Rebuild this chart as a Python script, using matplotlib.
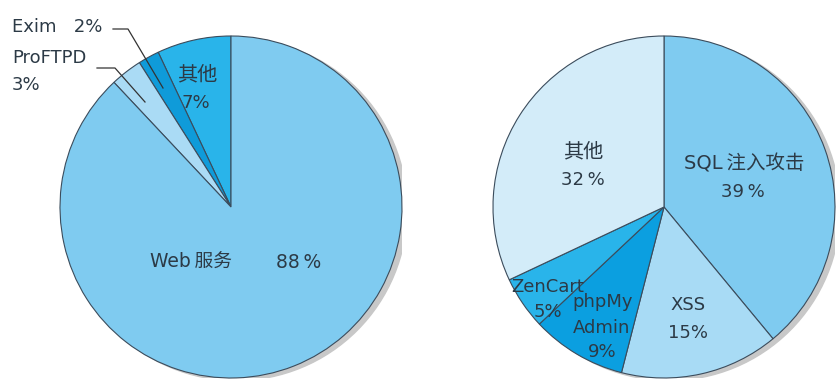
import matplotlib.pyplot as plt
from matplotlib.patches import Circle

plt.rcParams['font.family'] = ['DejaVu Sans', 'Noto Sans CJK SC']

# left pie: counterclockwise from the top
left_labels = ['其他', 'Exim', 'ProFTPD', 'Web服务']
left_values = [7, 2, 3, 88]
left_colors = ['#29b4ea', '#0f9bd9', '#aadbf5', '#7fcbf0']

# right pie: clockwise from the top
right_labels = ['SQL注入攻击', 'XSS', 'phpMyAdmin', 'ZenCart', '其他']
right_values = [39, 15, 9, 5, 32]
right_colors = ['#7fcbf0', '#a8dbf5', '#0b9fe0', '#29b4ea', '#d3ecf9']

W, H = 836, 381
fig = plt.figure(figsize=(W / 100, H / 100), dpi=100)

edge = '#3b4c5c'
txt = '#2c3a46'
fs = 13


def pie_axes(cx, cy, r):
    # cx, cy in pixels from top-left
    return fig.add_axes([(cx - r) / W, (H - cy - r) / H, 2 * r / W, 2 * r / H])


def label(x, y, s, ha='center', size=fs):
    fig.text(x / W, 1 - y / H, s, ha=ha, va='center', color=txt, fontsize=size)


def draw_pie(ax, values, colors, counterclock):
    ax.add_patch(Circle((0.03, -0.015), 1.0, color='#c8c8c8', zorder=0))
    ax.pie(values, colors=colors, startangle=90, counterclock=counterclock,
           wedgeprops=dict(edgecolor=edge, linewidth=0.8))
    ax.set_xlim(-1.0, 1.0)
    ax.set_ylim(-1.0, 1.0)
    ax.set_aspect('equal')
    ax.axis('off')


ax1 = pie_axes(231, 207, 171)
draw_pie(ax1, left_values, left_colors, True)

ax2 = pie_axes(664, 207, 171)
draw_pie(ax2, right_values, right_colors, False)

# left pie labels
label(191, 262, 'Web\u2009服务', size=13.5)
label(299, 262, '88\u2009%', size=13.5)
label(197, 75, '其他', size=14.5)
label(196, 103, '7%')
label(12, 27, 'Exim   2%', ha='left')
label(12, 58, 'ProFTPD', ha='left')
label(12, 85, '3%', ha='left')

# leader lines
for xs, ys in [([113, 128, 163], [29, 29, 88]), ([97, 115, 145], [68, 68, 102])]:
    fig.add_artist(plt.Line2D([x / W for x in xs], [1 - y / H for y in ys],
                              color='#333333', linewidth=0.9))

# right pie labels
label(583, 152, '其他', size=14.5)
label(583, 180, '32\u2009%')
label(744, 164, 'SQL\u2009注入攻击', size=14)
label(743, 192, '39\u2009%')
label(688, 305, 'XSS')
label(688, 333, '15%')
label(548, 287, 'ZenCart')
label(548, 312, '5%')
label(603, 302, 'phpMy')
label(602, 328, 'Admin')
label(602, 352, '9%')

fig.savefig('out.png', dpi=100, facecolor='white')
